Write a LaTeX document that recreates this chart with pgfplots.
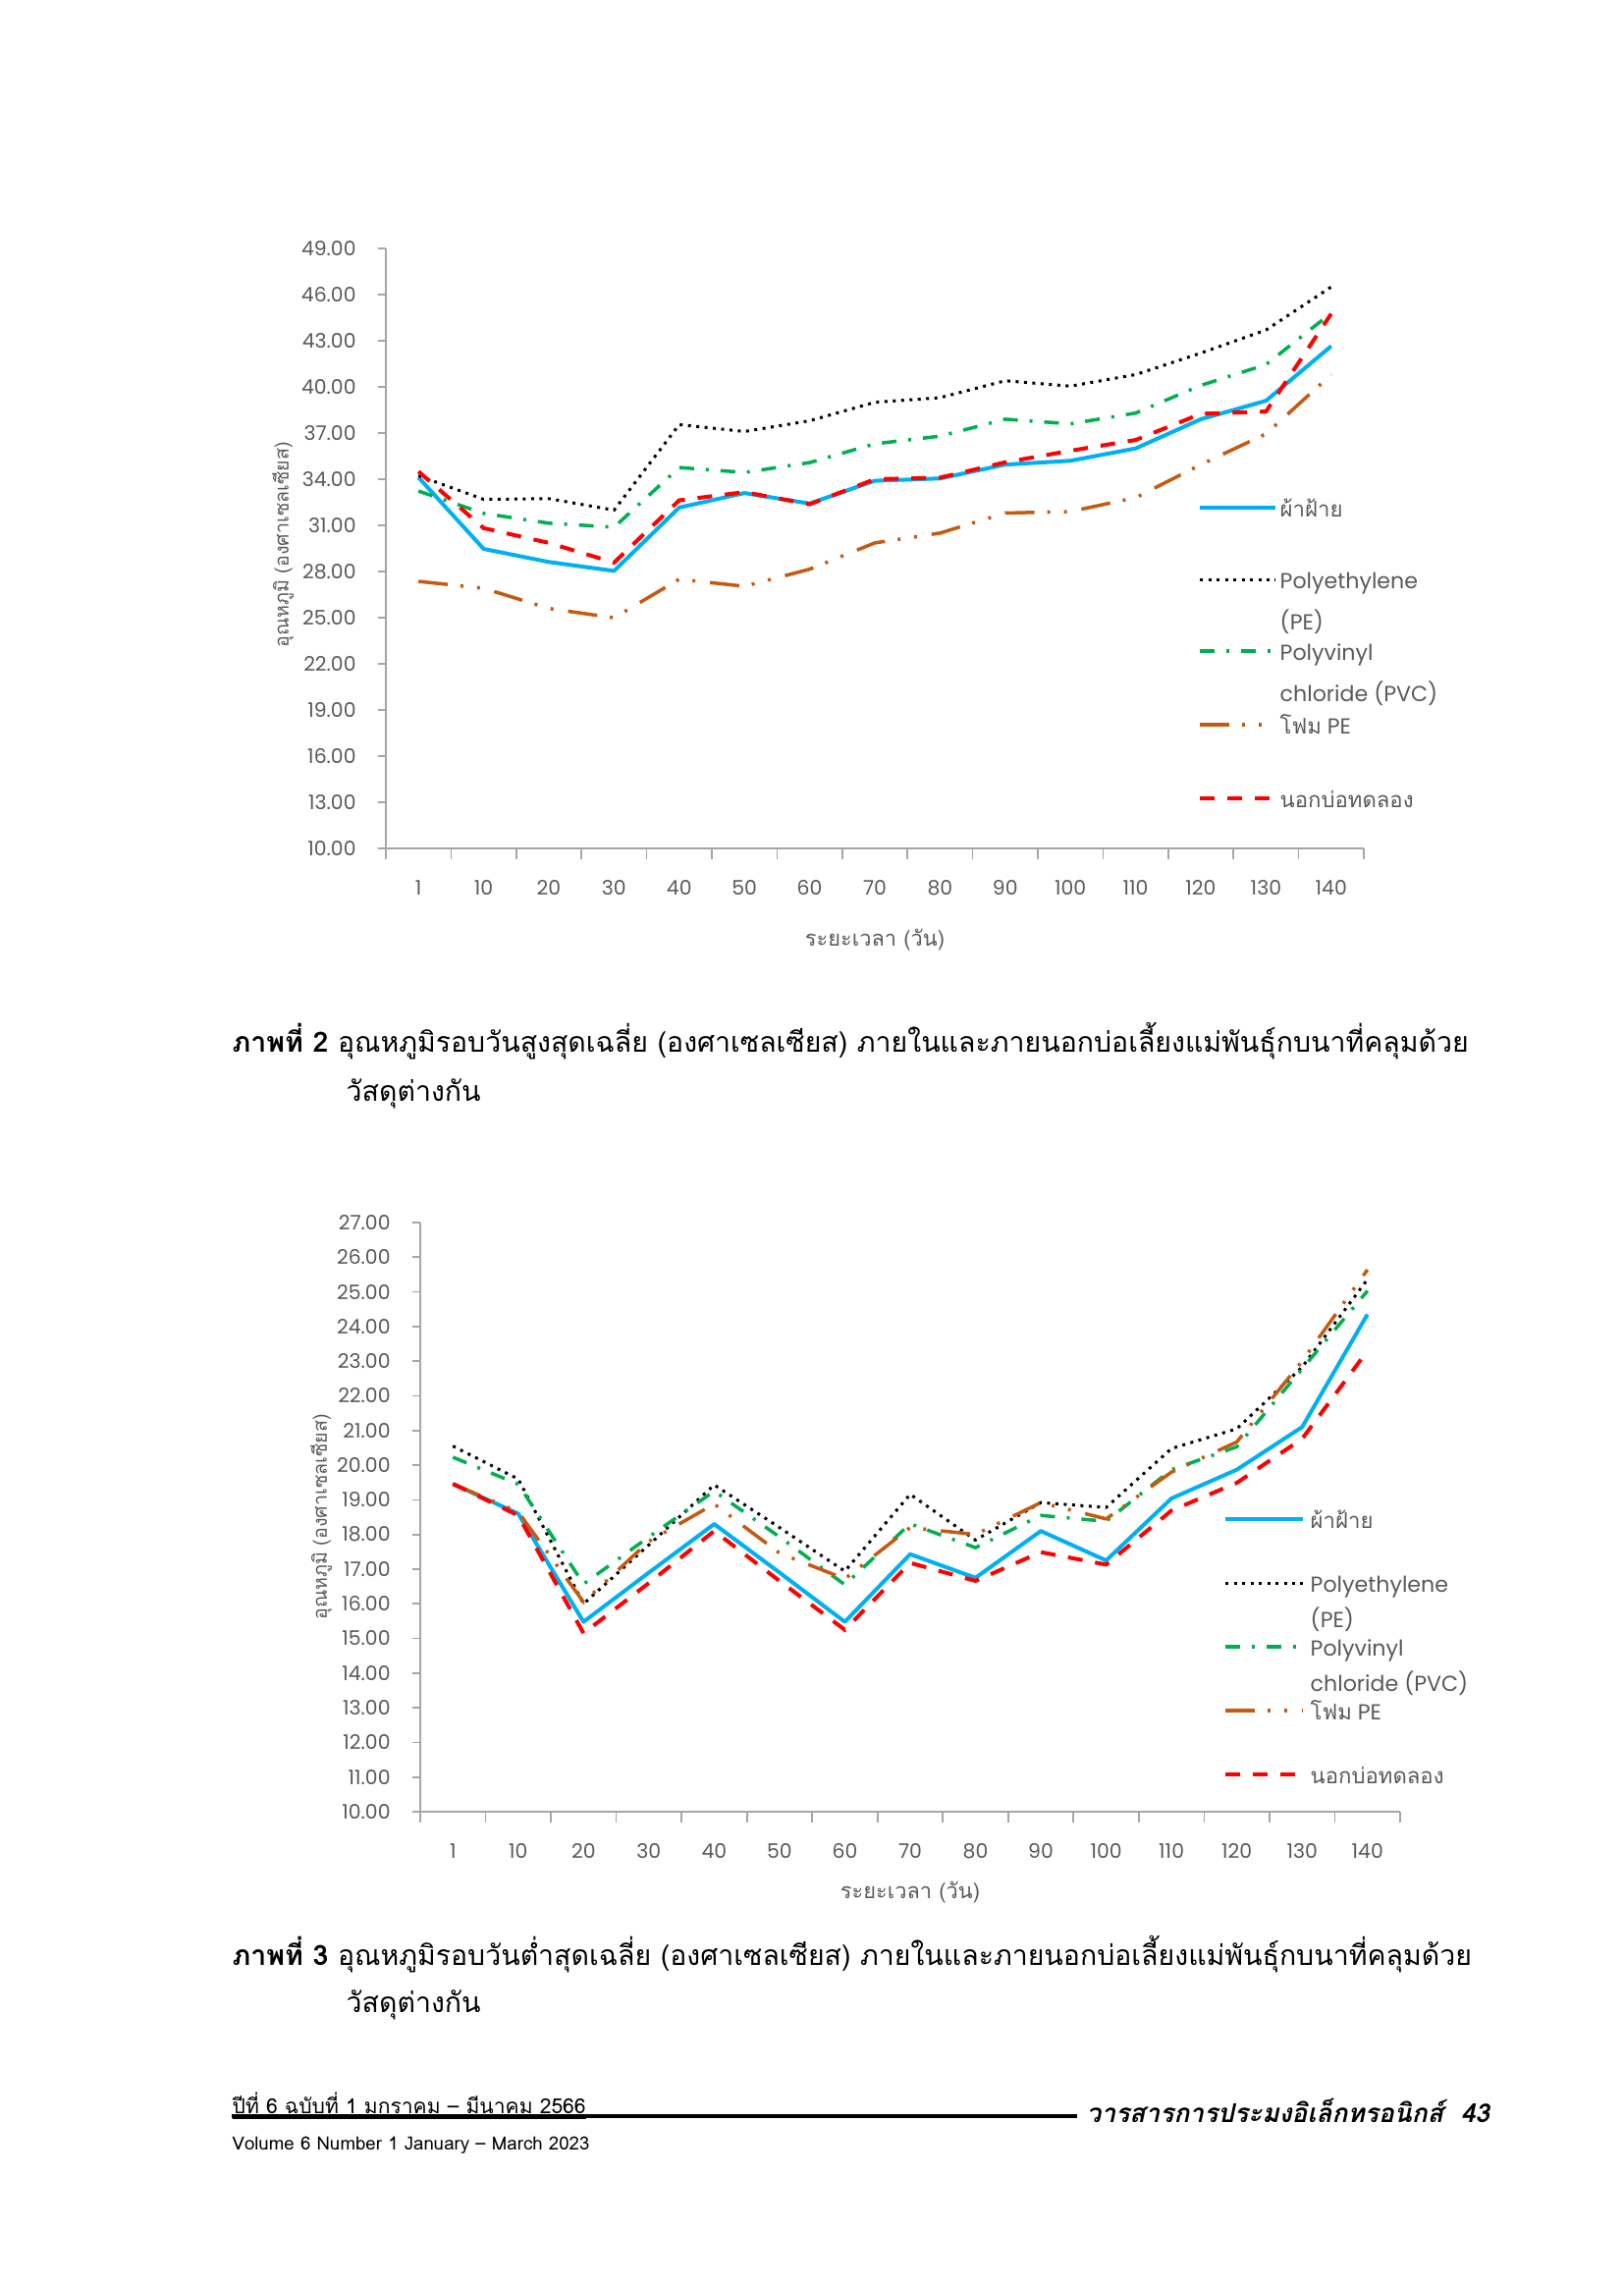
\documentclass[border=0pt]{standalone}
\usepackage{pgfplots}
\pgfplotsset{compat=1.18}
\usepackage{fontspec}
\setmainfont{Loma}[Script=Thai]
\newfontfamily\thai[Script=Thai]{Loma}
\newfontfamily\pop{Poppins}

\definecolor{cblue}{HTML}{00B0F0}
\definecolor{cgreen}{HTML}{00B050}
\definecolor{corange}{HTML}{C55A11}
\definecolor{cred}{HTML}{FF0000}
\definecolor{axgray}{HTML}{A6A6A6}
\definecolor{txtgray}{HTML}{595959}

\tikzset{
  ser1/.style={cblue, line width=0.04cm, solid, line join=round},
  ser2/.style={black, line width=0.03cm, dash pattern=on 0.03cm off 0.055cm},
  ser3/.style={cgreen, line width=0.035cm, dash pattern=on 0.15cm off 0.12cm on 0.03cm off 0.12cm},
  ser4/.style={corange, line width=0.035cm, dash pattern=on 0.30cm off 0.13cm on 0.03cm off 0.14cm on 0.03cm off 0.15cm},
  ser5/.style={cred, line width=0.04cm, dash pattern=on 0.15cm off 0.13cm},
  legtxt/.style={anchor=mid west, inner sep=0pt, text=txtgray, font=\pop\fontsize{6.3}{7.5}\selectfont},
  axtitle/.style={text=txtgray, font=\thai\fontsize{6.2}{7.5}\selectfont},
  ytitle/.style={rotate=90, text=txtgray, font=\thai\fontsize{5.6}{7}\selectfont},
  capt/.style={anchor=mid west, inner sep=0pt, font=\fontsize{8.1}{10}\selectfont},
}

\pgfplotsset{
  mychart/.style={
    scale only axis,
    axis lines=left,
    axis line style={draw=axgray, line width=0.5pt, -},
    enlargelimits=false,
    clip=false,
    no markers,
    xmin=-0.5, xmax=14.5,
    xtick={0,...,14},
    xticklabels={1,10,20,30,40,50,60,70,80,90,100,110,120,130,140},
    minor xtick={-0.5,0.5,...,14.5},
    major x tick style={draw=none},
    minor x tick style={draw=axgray, line width=0.5pt},
    minor tick length=0.11cm,
    major tick length=0.08cm,
    tick align=outside,
    y tick style={draw=axgray, line width=0.5pt},
    tick label style={font=\pop\fontsize{5.8}{7}\selectfont, text=txtgray},
    xticklabel style={yshift=-0.12cm},
    yticklabel style={xshift=-0.1cm},
    yticklabel={\pgfmathprintnumber[fixed, fixed zerofill, precision=2, assume math mode=true]{\tick}},
  }
}

\begin{document}
\begin{tikzpicture}[x=1cm, y=1cm]
\path[use as bounding box] (0,0) rectangle (16.54,-23.28);

% ---- figure 2 (max temperature)
\begin{axis}[mychart,
  at={(3.93cm,-8.64cm)}, anchor=south west,
  width=9.96cm, height=6.11cm,
  ymin=10, ymax=49, ytick={10,13,...,49}]
\addplot[ser1] coordinates {(0,34.12) (1,29.47) (2,28.62) (3,28.04) (4,32.16) (5,33.10) (6,32.42) (7,33.90) (8,34.05) (9,34.95) (10,35.20) (11,36.00) (12,37.90) (13,39.10) (14,42.65)};
\addplot[ser2] coordinates {(0,34.23) (1,32.69) (2,32.74) (3,31.99) (4,37.55) (5,37.10) (6,37.80) (7,39.00) (8,39.30) (9,40.40) (10,40.05) (11,40.80) (12,42.20) (13,43.70) (14,46.50)};
\addplot[ser3] coordinates {(0,33.23) (1,31.78) (2,31.14) (3,30.88) (4,34.76) (5,34.44) (6,35.08) (7,36.30) (8,36.80) (9,37.90) (10,37.60) (11,38.30) (12,40.10) (13,41.45) (14,44.80)};
\addplot[ser4] coordinates {(0,27.36) (1,26.91) (2,25.60) (3,24.99) (4,27.50) (5,27.04) (6,28.15) (7,29.86) (8,30.50) (9,31.80) (10,31.90) (11,32.80) (12,34.95) (13,36.95) (14,40.80)};
\addplot[ser5] coordinates {(0,34.50) (1,30.82) (2,29.86) (3,28.58) (4,32.63) (5,33.16) (6,32.37) (7,34.00) (8,34.10) (9,35.10) (10,35.85) (11,36.55) (12,38.25) (13,38.40) (14,44.75)};
\end{axis}
\node[ytitle] at (2.88,-5.55) {อุณหภูมิ (องศาเซลเซียส)};
\node[axtitle] at (8.91,-9.57) {ระยะเวลา (วัน)};
% legend
\draw[ser1] (12.22,-5.17) -- (12.99,-5.17);
\node[legtxt] at (13.03,-5.17) {\thai ผ้าฝ้าย};
\draw[ser2] (12.22,-5.90) -- (12.99,-5.90);
\node[legtxt] at (13.03,-5.90) {Polyethylene};
\node[legtxt] at (13.03,-6.32) {(PE)};
\draw[ser3] (12.22,-6.63) -- (12.99,-6.63);
\node[legtxt] at (13.03,-6.63) {Polyvinyl};
\node[legtxt] at (13.03,-7.05) {chloride (PVC)};
\draw[ser4] (12.22,-7.38) -- (12.99,-7.38);
\node[legtxt] at (13.03,-7.38) {{\thai โฟม} PE};
\draw[ser5] (12.22,-8.13) -- (12.99,-8.13);
\node[legtxt] at (13.03,-8.13) {\thai นอกบ่อทดลอง};

\node[capt] at (2.36,-10.62) {\textbf{ภาพที่ 2} อุณหภูมิรอบวันสูงสุดเฉลี่ย (องศาเซลเซียส) ภายในและภายนอกบ่อเลี้ยงแม่พันธุ์กบนาที่คลุมด้วย};
\node[capt] at (3.52,-11.12) {วัสดุต่างกัน};

% ---- figure 3 (min temperature)
\begin{axis}[mychart,
  at={(4.28cm,-18.45cm)}, anchor=south west,
  width=9.98cm, height=6.00cm,
  ymin=10, ymax=27, ytick={10,11,...,27}]
\addplot[ser1] coordinates {(0,19.46) (1,18.60) (2,15.48) (3,16.90) (4,18.30) (5,16.90) (6,15.48) (7,17.43) (8,16.75) (9,18.10) (10,17.25) (11,19.04) (12,19.87) (13,21.10) (14,24.35)};
\addplot[ser2] coordinates {(0,20.55) (1,19.60) (2,16.00) (3,17.70) (4,19.43) (5,18.20) (6,16.94) (7,19.16) (8,17.84) (9,18.92) (10,18.78) (11,20.48) (12,21.05) (13,22.83) (14,25.36)};
\addplot[ser3] coordinates {(0,20.23) (1,19.45) (2,16.57) (3,17.93) (4,19.25) (5,17.93) (6,16.55) (7,18.31) (8,17.62) (9,18.55) (10,18.38) (11,19.87) (12,20.53) (13,22.78) (14,25.03)};
\addplot[ser4] coordinates {(0,19.46) (1,18.65) (2,16.05) (3,17.80) (4,18.88) (5,17.46) (6,16.72) (7,18.20) (8,18.00) (9,18.92) (10,18.45) (11,19.80) (12,20.67) (13,23.00) (14,25.64)};
\addplot[ser5] coordinates {(0,19.46) (1,18.55) (2,15.15) (3,16.60) (4,18.10) (5,16.66) (6,15.25) (7,17.18) (8,16.66) (9,17.49) (10,17.13) (11,18.69) (12,19.49) (13,20.76) (14,23.30)};
\end{axis}
\node[ytitle] at (3.27,-15.45) {อุณหภูมิ (องศาเซลเซียส)};
\node[axtitle] at (9.27,-19.27) {ระยะเวลา (วัน)};
% legend
\draw[ser1] (12.48,-15.47) -- (13.27,-15.47);
\node[legtxt] at (13.34,-15.47) {\thai ผ้าฝ้าย};
\draw[ser2] (12.48,-16.12) -- (13.27,-16.12);
\node[legtxt] at (13.34,-16.12) {Polyethylene};
\node[legtxt] at (13.34,-16.48) {(PE)};
\draw[ser3] (12.48,-16.77) -- (13.27,-16.77);
\node[legtxt] at (13.34,-16.77) {Polyvinyl};
\node[legtxt] at (13.34,-17.13) {chloride (PVC)};
\draw[ser4] (12.48,-17.42) -- (13.27,-17.42);
\node[legtxt] at (13.34,-17.42) {{\thai โฟม} PE};
\draw[ser5] (12.48,-18.07) -- (13.27,-18.07);
\node[legtxt] at (13.34,-18.07) {\thai นอกบ่อทดลอง};

\node[capt] at (2.36,-19.92) {\textbf{ภาพที่ 3} อุณหภูมิรอบวันต่ำสุดเฉลี่ย (องศาเซลเซียส) ภายในและภายนอกบ่อเลี้ยงแม่พันธุ์กบนาที่คลุมด้วย};
\node[capt] at (3.52,-20.40) {วัสดุต่างกัน};

% ---- footer
\node[anchor=mid west, inner sep=0pt, font=\fontsize{6}{7}\selectfont] at (2.36,-21.43) {\underline{ปีที่ 6 ฉบับที่ 1 มกราคม – มีนาคม 2566}};
\draw[line width=0.04cm] (2.36,-21.55) -- (10.97,-21.55);
\node[anchor=mid west, inner sep=0pt, font=\bfseries\itshape\fontsize{7.5}{9}\selectfont] at (11.06,-21.52) {วารสารการประมงอิเล็กทรอนิกส์~~43};
\node[anchor=mid west, inner sep=0pt, font=\fontsize{5.3}{6.5}\selectfont] at (2.36,-21.80) {Volume 6 Number 1 January – March 2023};
\end{tikzpicture}
\end{document}
